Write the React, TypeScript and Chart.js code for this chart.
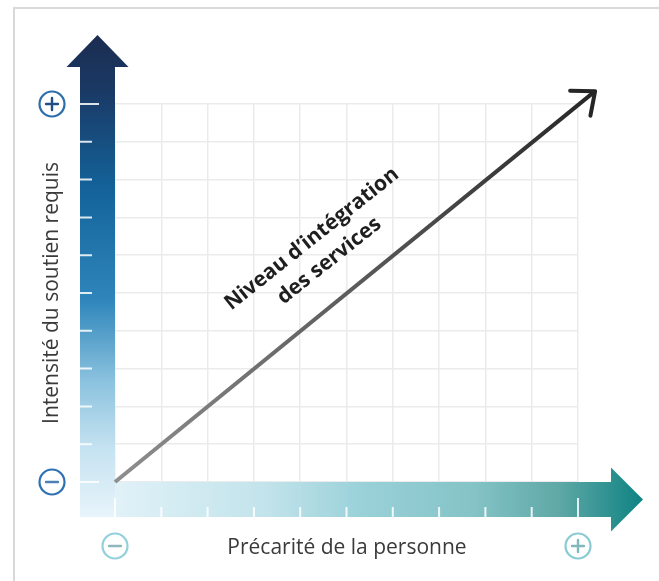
import React, { useEffect, useRef } from "react";
import { Chart, registerables } from "chart.js";

Chart.register(...registerables);

// ---- data ----
const xRange = [0, 10];
const yRange = [0, 10];
const gridStep = 1;
const diagonalX = [0, 10.37];
const diagonalY = [0, 10.34];
const xTitle = "Précarité de la personne";
const yTitle = "Intensité du soutien requis";
const diagonalLabel = ["Niveau d’intégration", "des services"];
const endSigns = ["−", "+"];

function drawSignIcon(ctx: CanvasRenderingContext2D, x: number, y: number, sign: string, ring: string, mark: string) {
  ctx.save();
  ctx.beginPath();
  ctx.arc(x, y, 12.5, 0, Math.PI * 2);
  ctx.lineWidth = 2.2;
  ctx.strokeStyle = ring;
  ctx.stroke();
  ctx.beginPath();
  ctx.lineWidth = 2.4;
  ctx.strokeStyle = mark;
  ctx.lineCap = "round";
  ctx.moveTo(x - 6, y);
  ctx.lineTo(x + 6, y);
  if (sign === "+") {
    ctx.moveTo(x, y - 6);
    ctx.lineTo(x, y + 6);
  }
  ctx.stroke();
  ctx.restore();
}

const decorPlugin = {
  id: "decor",
  beforeDatasetsDraw(chart: any) {
    const ctx: CanvasRenderingContext2D = chart.ctx;
    const xs = chart.scales.x;
    const ys = chart.scales.y;
    const x0 = xs.getPixelForValue(xRange[0]);
    const x1 = xs.getPixelForValue(xRange[1]);
    const y0 = ys.getPixelForValue(yRange[0]);
    const y1 = ys.getPixelForValue(yRange[1]);
    const w = 35;

    ctx.save();
    // frame
    ctx.strokeStyle = "#d9d9d9";
    ctx.lineWidth = 2;
    ctx.beginPath();
    ctx.moveTo(14, chart.height);
    ctx.lineTo(14, 8);
    ctx.lineTo(chart.width, 8);
    ctx.stroke();

    // horizontal arrow
    const hg = ctx.createLinearGradient(x0 - w, 0, x1 + 66, 0);
    hg.addColorStop(0, "#e8f5fb");
    hg.addColorStop(0.33, "#c2e3eb");
    hg.addColorStop(0.5, "#9ad1d9");
    hg.addColorStop(0.7, "#84c3c6");
    hg.addColorStop(0.85, "#5ea8a6");
    hg.addColorStop(1, "#0e8282");
    ctx.fillStyle = hg;
    const hb = x1 + 33;
    const cy = y0 + w / 2;
    ctx.beginPath();
    ctx.moveTo(x0 - w, y0);
    ctx.lineTo(hb, y0);
    ctx.lineTo(hb, cy - 32);
    ctx.lineTo(hb + 32, cy);
    ctx.lineTo(hb, cy + 32);
    ctx.lineTo(hb, y0 + w);
    ctx.lineTo(x0 - w, y0 + w);
    ctx.closePath();
    ctx.fill();

    // vertical arrow
    const vg = ctx.createLinearGradient(0, y1 - 69, 0, y0 + w);
    vg.addColorStop(0, "#1c2c50");
    vg.addColorStop(0.12, "#1a3a66");
    vg.addColorStop(0.32, "#13639a");
    vg.addColorStop(0.55, "#2f86bb");
    vg.addColorStop(0.72, "#8cc3df");
    vg.addColorStop(0.86, "#c6e3f1");
    vg.addColorStop(1, "#e8f4fb");
    ctx.fillStyle = vg;
    const cx = x0 - w / 2;
    const vb = y1 - 37;
    ctx.beginPath();
    ctx.moveTo(x0 - w, y0 + w);
    ctx.lineTo(x0 - w, vb);
    ctx.lineTo(cx - 31, vb);
    ctx.lineTo(cx, vb - 32);
    ctx.lineTo(cx + 31, vb);
    ctx.lineTo(x0, vb);
    ctx.lineTo(x0, y0 + w);
    ctx.closePath();
    ctx.fill();

    // ticks
    ctx.strokeStyle = "rgba(255,255,255,0.85)";
    ctx.lineWidth = 2;
    ctx.beginPath();
    for (let v = yRange[0]; v <= yRange[1]; v += gridStep) {
      const py = ys.getPixelForValue(v);
      const len = v === yRange[0] || v === yRange[1] ? 19 : 12;
      ctx.moveTo(x0 - w, py);
      ctx.lineTo(x0 - w + len, py);
    }
    for (let v = xRange[0]; v <= xRange[1]; v += gridStep) {
      const px = xs.getPixelForValue(v);
      const len = v === xRange[0] || v === xRange[1] ? 19 : 10;
      ctx.moveTo(px, y0 + w);
      ctx.lineTo(px, y0 + w - len);
    }
    ctx.stroke();

    // sign icons
    drawSignIcon(ctx, 52, y1, endSigns[1], "#2c6dac", "#1f4f86");
    drawSignIcon(ctx, 52, y0, endSigns[0], "#2f70b2", "#4d80b4");
    drawSignIcon(ctx, x0, 546, endSigns[0], "#92d1d9", "#8eb8bc");
    drawSignIcon(ctx, x1, 546, endSigns[1], "#88cbd2", "#82b8bc");

    // axis titles
    ctx.fillStyle = "#3a3a3a";
    ctx.font = "21px 'Open Sans'";
    ctx.textAlign = "center";
    ctx.textBaseline = "alphabetic";
    ctx.fillText(xTitle, 347, 554);
    ctx.save();
    ctx.translate(58, 293);
    ctx.rotate(-Math.PI / 2);
    ctx.fillText(yTitle, 0, 0);
    ctx.restore();
    ctx.restore();
  },
  afterDatasetsDraw(chart: any) {
    const ctx: CanvasRenderingContext2D = chart.ctx;
    const meta = chart.getDatasetMeta(0);
    const p0 = meta.data[0];
    const p1 = meta.data[meta.data.length - 1];
    const back = Math.atan2(p0.y - p1.y, p0.x - p1.x);
    const arm = 25;
    const spread = (40 * Math.PI) / 180;
    ctx.save();
    ctx.strokeStyle = "#262626";
    ctx.lineWidth = 4;
    ctx.lineCap = "round";
    ctx.lineJoin = "round";
    ctx.beginPath();
    ctx.moveTo(p1.x + arm * Math.cos(back - spread), p1.y + arm * Math.sin(back - spread));
    ctx.lineTo(p1.x, p1.y);
    ctx.lineTo(p1.x + arm * Math.cos(back + spread), p1.y + arm * Math.sin(back + spread));
    ctx.stroke();

    // diagonal label
    const xs = chart.scales.x;
    const ys = chart.scales.y;
    const ax = xs.getPixelForValue(4.44);
    const ay = ys.getPixelForValue(6.14);
    ctx.translate(ax, ay);
    ctx.rotate((-38.5 * Math.PI) / 180);
    ctx.fillStyle = "#1e1e1e";
    ctx.font = "bold 21px 'Open Sans'";
    ctx.textAlign = "center";
    ctx.textBaseline = "middle";
    ctx.fillText(diagonalLabel[0], 0, -14);
    ctx.fillText(diagonalLabel[1], 0, 14);
    ctx.restore();
  },
};

export default function App() {
  const ref = useRef<HTMLCanvasElement | null>(null);
  useEffect(() => {
    if (!ref.current) return;
    const chart = new Chart(ref.current, {
      type: "line",
      data: {
        datasets: [
          {
            data: diagonalX.map((x, i) => ({ x, y: diagonalY[i] })),
            borderWidth: 4,
            pointRadius: 0,
            clip: false as any,
            borderColor: (c: any) => {
              const ch = c.chart;
              const xs = ch.scales.x;
              const ys = ch.scales.y;
              if (!xs || !ys || !ch.chartArea) return "#555";
              const ax = xs.getPixelForValue(diagonalX[0]);
              const ay = ys.getPixelForValue(diagonalY[0]);
              const bx = xs.getPixelForValue(diagonalX[1]);
              const by = ys.getPixelForValue(diagonalY[1]);
              if (![ax, ay, bx, by].every((v) => Number.isFinite(v))) return "#555";
              const g = ch.ctx.createLinearGradient(ax, ay, bx, by);
              g.addColorStop(0, "#8f8f8f");
              g.addColorStop(1, "#262626");
              return g;
            },
          },
        ],
      },
      options: {
        animation: false,
        responsive: false,
        maintainAspectRatio: false,
        layout: { padding: { left: 115, right: 81, top: 104, bottom: 99 } },
        plugins: { legend: { display: false }, tooltip: { enabled: false } },
        scales: {
          x: {
            type: "linear",
            min: xRange[0],
            max: xRange[1],
            ticks: { display: false, stepSize: gridStep },
            grid: { color: "#ebebeb", lineWidth: 1.5, drawTicks: false },
            border: { display: false },
          },
          y: {
            type: "linear",
            min: yRange[0],
            max: yRange[1],
            ticks: { display: false, stepSize: gridStep },
            grid: { color: "#ebebeb", lineWidth: 1.5, drawTicks: false },
            border: { display: false },
          },
        },
      },
      plugins: [decorPlugin],
    });
    return () => chart.destroy();
  }, []);
  return (
    <div style={{ position: "absolute", left: 0, top: 0, width: 659, height: 581, background: "#fff" }}>
      <canvas ref={ref} width={659} height={581} />
    </div>
  );
}
